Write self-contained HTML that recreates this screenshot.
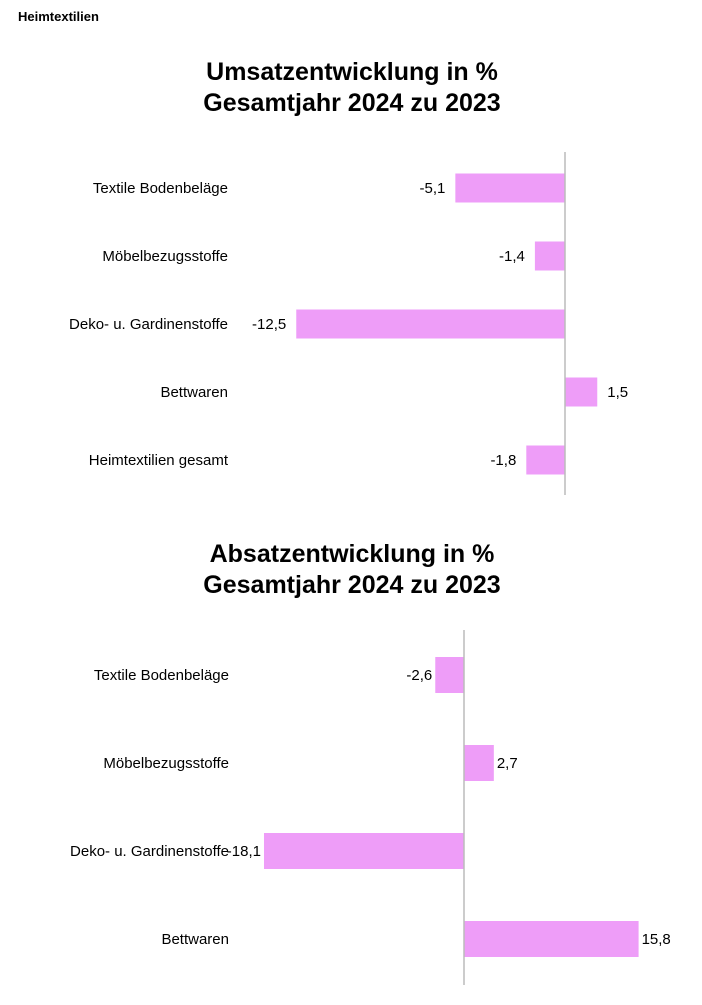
<!DOCTYPE html>
<html><head><meta charset="utf-8"><style>
body{margin:0;background:#fff;width:702px;height:1000px;overflow:hidden;font-family:"Liberation Sans",Arial,sans-serif}
svg text{font-family:"Liberation Sans",Arial,sans-serif}
</style></head><body>
<svg id="s" width="702" height="1000">
<text x="18" y="21" font-size="13" font-weight="bold">Heimtextilien</text>
<text x="352" y="80" font-size="25" font-weight="bold" text-anchor="middle">Umsatzentwicklung in %</text>
<text x="352" y="111" font-size="25" font-weight="bold" text-anchor="middle">Gesamtjahr 2024 zu 2023</text>
<text x="352" y="562" font-size="25" font-weight="bold" text-anchor="middle">Absatzentwicklung in %</text>
<text x="352" y="593" font-size="25" font-weight="bold" text-anchor="middle">Gesamtjahr 2024 zu 2023</text>
</svg>
<script>
const cats1=["Textile Bodenbeläge","Möbelbezugsstoffe","Deko- u. Gardinenstoffe","Bettwaren","Heimtextilien gesamt"];
const vals1=[-5.1,-1.4,-12.5,1.5,-1.8];
const cats2=["Textile Bodenbeläge","Möbelbezugsstoffe","Deko- u. Gardinenstoffe","Bettwaren"];
const vals2=[-2.6,2.7,-18.1,15.8];
const NS="http://www.w3.org/2000/svg";
const svg=document.getElementById('s');
function mk(t,a){const e=document.createElementNS(NS,t);for(const k in a)e.setAttribute(k,a[k]);svg.appendChild(e);return e;}
function draw(cats,vals,cfg,p){
  const x=v=>cfg.zero+v*cfg.scale;
  const y=i=>cfg.y0+i*cfg.step;
  cats.forEach((c,i)=>{
    const v=vals[i];const x0=Math.min(x(0),x(v));
    const b=mk('rect',{x:x0,y:y(i)-cfg.h/2,width:Math.abs(x(v)-x(0)),height:cfg.h,fill:'#EE9DF8'});
    
    
    const l=mk('text',{x:cfg.labelX,y:y(i)+5,'font-size':15,'text-anchor':'end'});l.textContent=c;
    
    
    const vt=mk('text',{x:v<0?x(v)-cfg.gap:x(v)+cfg.gap,y:y(i)+5,'font-size':15,'text-anchor':v<0?'end':'start'});
    vt.textContent=String(v).replace('.',',');
    
    
  });
  const a=mk('line',{x1:x(0),x2:x(0),y1:cfg.ay1,y2:cfg.ay2,stroke:'#bbb','stroke-width':1.5});
  
  
}
draw(cats1,vals1,{zero:565,scale:21.5,y0:188,step:68,h:29,labelX:228,gap:10,ay1:152,ay2:495},'umsatz');
draw(cats2,vals2,{zero:464,scale:11.05,y0:675,step:88,h:36,labelX:229,gap:3,ay1:630,ay2:985},'absatz');
</script>
</body></html>
